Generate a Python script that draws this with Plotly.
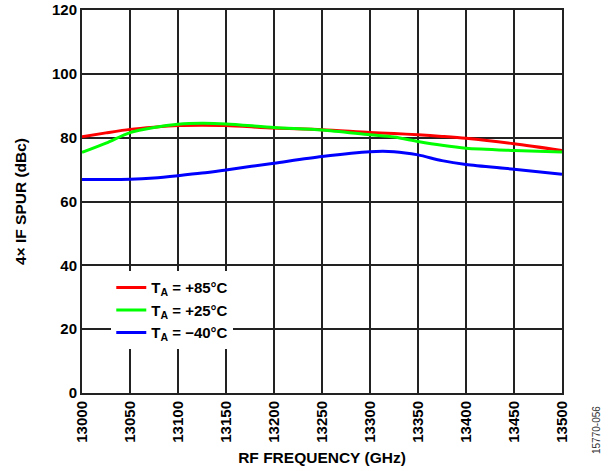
import plotly.graph_objects as go

# RF frequency points (x axis)
freq = [13000, 13025, 13050, 13075, 13100, 13125, 13150, 13200, 13250, 13300, 13325, 13350, 13375, 13400, 13450, 13500]

# 4x IF spur (dBc) per temperature
spur_85 = [80.3, 81.5, 82.6, 83.3, 83.8, 83.9, 83.8, 83.0, 82.5, 81.6, 81.3, 80.9, 80.4, 79.8, 78.1, 76.0]
spur_25 = [75.4, 78.3, 81.6, 83.2, 84.2, 84.5, 84.3, 83.2, 82.4, 80.9, 80.2, 78.8, 77.6, 76.7, 76.0, 75.5]
spur_m40 = [66.9, 66.9, 67.0, 67.4, 68.1, 68.9, 69.9, 72.0, 74.1, 75.6, 75.6, 74.6, 72.8, 71.6, 70.1, 68.5]

series_names = ["T<sub>A</sub> = +85°C", "T<sub>A</sub> = +25°C", "T<sub>A</sub> = −40°C"]
series_colors = ["#ff0000", "#00ff00", "#0000ff"]
series_values = [spur_85, spur_25, spur_m40]

FONT = "Liberation Sans, Arial"

fig = go.Figure()

for name, color, vals in zip(series_names, series_colors, series_values):
    fig.add_trace(go.Scatter(
        x=freq,
        y=vals,
        mode='lines',
        name=name,
        line=dict(color=color, width=3, shape='spline', smoothing=0.8)
    ))

tick_font = dict(family=FONT, size=15, color="black", weight="bold")
title_font = dict(family=FONT, size=15.5, color="black", weight="bold")

fig.update_layout(
    width=608,
    height=471,
    margin=dict(l=82, r=46, t=10, b=78, autoexpand=False),
    plot_bgcolor='white',
    paper_bgcolor='white',
    font=dict(family=FONT, size=15, color="black"),
    xaxis=dict(
        range=[13000, 13500],
        dtick=50,
        tickformat='d',
        tickangle=-90,
        tickfont=tick_font,
        ticklabeloverflow='allow',
        showgrid=True,
        gridcolor='#222222',
        gridwidth=1.5,
        showline=True,
        linecolor='#222222',
        linewidth=2,
        mirror=True,
        ticks='',
        zeroline=False,
        automargin=False,
        title=dict(text="RF FREQUENCY (GHz)", font=title_font, standoff=10),
    ),
    yaxis=dict(
        range=[0, 120],
        dtick=20,
        tickfont=tick_font,
        ticklabeloverflow='allow',
        showgrid=True,
        gridcolor='#222222',
        gridwidth=1.5,
        showline=True,
        linecolor='#222222',
        linewidth=2,
        mirror=True,
        ticks='',
        zeroline=False,
        automargin=False,
        title=dict(text="4× IF SPUR (dBc)", font=title_font, standoff=22),
    ),
    legend=dict(
        x=0.061,
        y=0.318,
        xanchor='left',
        yanchor='top',
        bgcolor='white',
        borderwidth=0,
        font=dict(family=FONT, size=15, color="black", weight="bold"),
        itemwidth=30,
        tracegroupgap=0,
    ),
    showlegend=True,
)

# small figure id at the right edge
fig.add_annotation(
    text="15770-056",
    x=(596 - 82) / 480, y=(393 - 430) / 383,
    xref='paper', yref='paper',
    xanchor='center', yanchor='middle',
    showarrow=False,
    textangle=-90,
    font=dict(family=FONT, size=10, color="#333333"),
)

# drop the default 8px page margin so the figure sits at the window origin
fig.write_html(
    "out.html",
    config={'displayModeBar': False},
    post_script="document.body.style.margin = '0';",
)
